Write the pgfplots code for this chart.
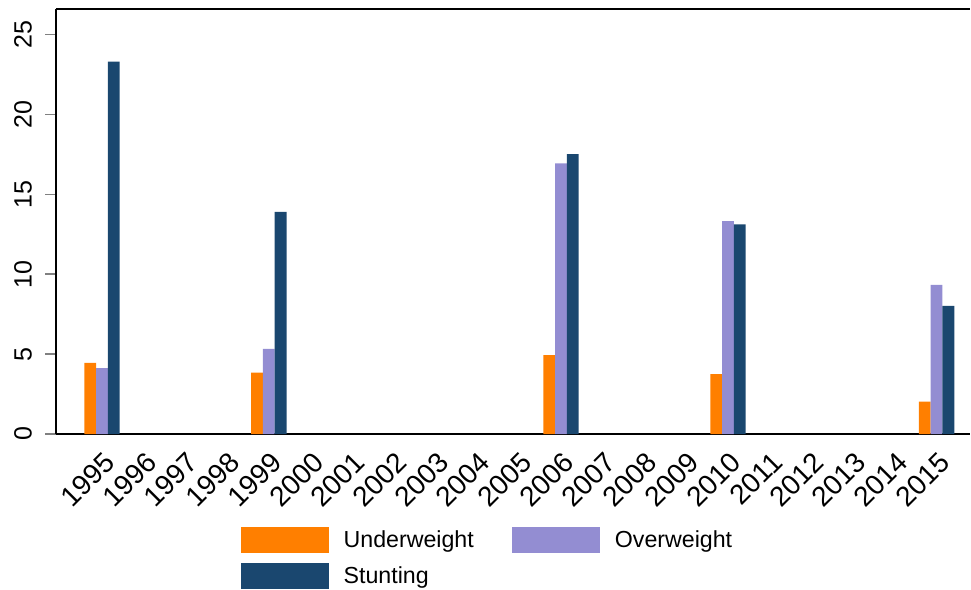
\documentclass[border=0pt]{standalone}
\usepackage{fontspec}
\setmainfont{Liberation Sans}
\usepackage{pgfplots}
\pgfplotsset{compat=1.18}
\definecolor{sorange}{RGB}{255,127,0}
\definecolor{slav}{RGB}{147,141,210}
\definecolor{snavy}{RGB}{26,71,111}
\begin{document}
\begin{tikzpicture}
\useasboundingbox (-28pt,-78pt) rectangle (457.5pt,217pt);
\begin{axis}[
  at={(0,0)}, anchor=south west,
  scale only axis, width=457pt, height=212.5pt,
  xmin=1993.9, xmax=2015.8, ymin=0, ymax=26.6,
  axis lines*=left,
  axis line style={line width=0.8pt},
  ybar, bar width=0.282,
  xtick={1995,...,2015},
  ytick={0,5,...,25},
  /pgf/number format/assume math mode=true,
  /pgf/number format/set thousands separator={},
  x tick label style={rotate=45, anchor=north east, font=\fontsize{14}{16}\selectfont, inner sep=0pt, xshift=-1.5pt, yshift=-2pt},
  y tick label style={rotate=90, anchor=south, font=\fontsize{12.5}{14}\selectfont},
  yticklabel shift=3pt,
  xtick style={draw=none},
  ytick style={line width=0.8pt},
  tick align=outside,
  major tick length=5.5pt,
  legend columns=2,
  legend style={at={(0.472,0)}, anchor=north, xshift=-0.5pt, yshift=-44.5pt, draw=none,
    font=\fontsize{11.6}{14}\selectfont,
    nodes={inner sep=0pt, anchor=west},
    row sep=5pt,
    /tikz/every odd column/.append style={column sep=7.5pt},
    /tikz/every even column/.append style={column sep=19pt}},
  legend image code/.code={\fill[#1] (0pt,-6.5pt) rectangle (44pt,6.5pt);},
]
\addplot[fill=sorange, draw=none, bar shift=-0.282] coordinates {(1995,4.45) (1999,3.84) (2006,4.93) (2010,3.74) (2015,2.02)};
\addplot[fill=slav, draw=none, bar shift=0] coordinates {(1995,4.13) (1999,5.33) (2006,16.94) (2010,13.33) (2015,9.34)};
\addplot[fill=snavy, draw=none, bar shift=0.282] coordinates {(1995,23.3) (1999,13.9) (2006,17.52) (2010,13.12) (2015,8.02)};
\legend{Underweight, Overweight, Stunting}
\draw[line width=0.8pt] (rel axis cs:0,1) -- (rel axis cs:1,1);
\end{axis}
\end{tikzpicture}
\end{document}
